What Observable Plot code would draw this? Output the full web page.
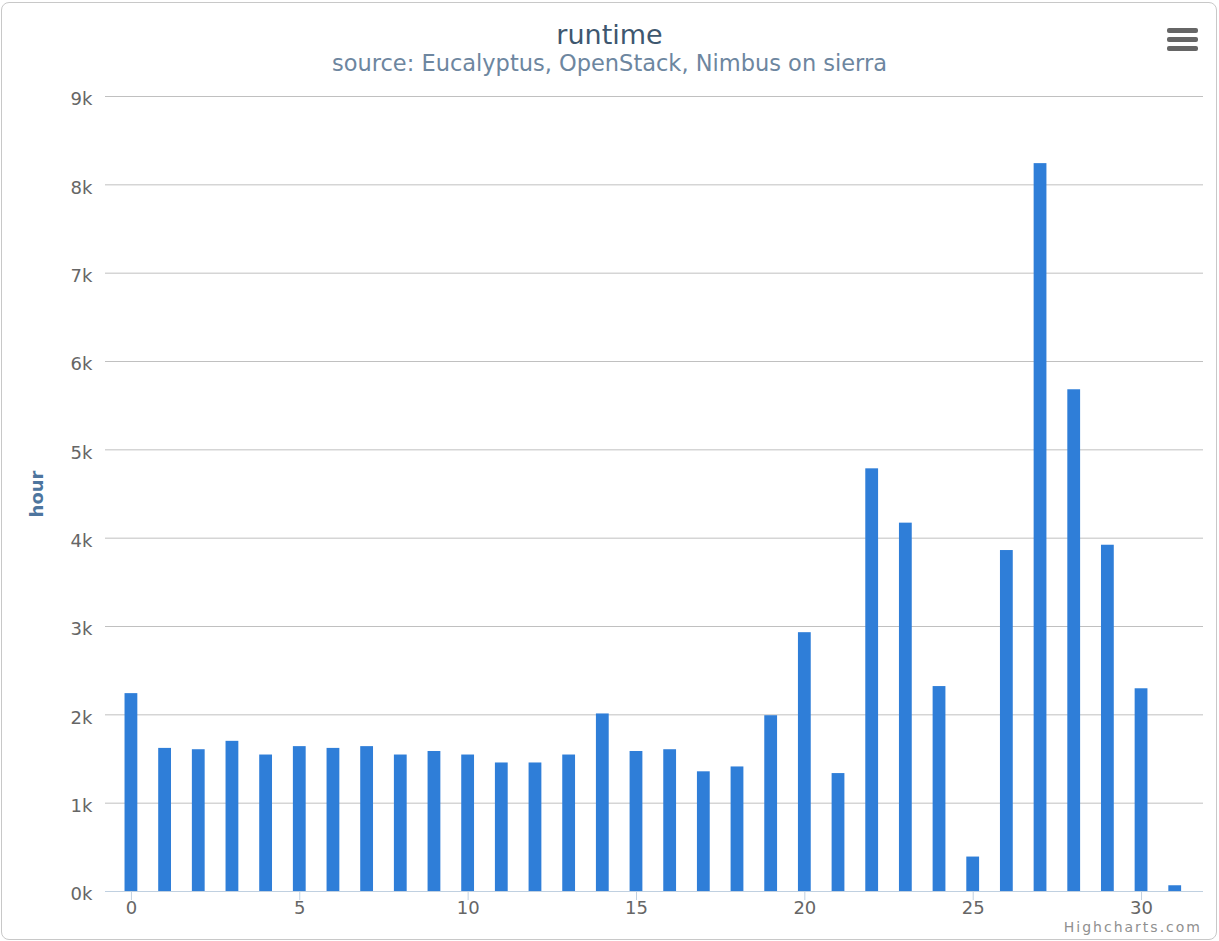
<!DOCTYPE html>
<html><head><meta charset="utf-8">
<script src="https://cdn.jsdelivr.net/npm/d3@7"></script>
<script src="https://cdn.jsdelivr.net/npm/@observablehq/plot@0.6"></script>
<style>
body{margin:0;background:#fff;font-family:"DejaVu Sans",sans-serif;}
#wrap{position:relative;width:1219px;height:941px;overflow:hidden;}
#frame{position:absolute;left:1px;top:2px;width:1214px;height:936px;border:1px solid #c8c8c8;border-radius:8px;pointer-events:none;}
#header{position:relative;height:80px;}
#title{position:absolute;top:20px;left:0;width:1219px;text-align:center;font-size:27px;line-height:30px;color:#3e576f;}
#subtitle{position:absolute;top:51px;left:0;width:1219px;text-align:center;font-size:22.5px;line-height:25px;color:#6d869f;}
#menu{position:absolute;left:1167px;top:28px;width:31px;}
#menu div{height:5px;background:#666;border-radius:2px;margin-bottom:4px;}
#credits{position:absolute;right:17px;top:921px;font-size:14px;letter-spacing:2px;color:#909090;line-height:12px;}
#chart{position:absolute;left:0;top:80px;}
</style>
</head><body>
<div id="wrap">
  <div id="header">
    <div id="title">runtime</div>
    <div id="subtitle">source: Eucalyptus, OpenStack, Nimbus on sierra</div>
    <div id="menu"><div></div><div></div><div></div></div>
  </div>
  <div id="chart"></div>
  <div id="credits">Highcharts.com</div>
  <div id="frame"></div>
</div>
<script>
const days = d3.range(32);
const runtime = [2240, 1620, 1605, 1700, 1545, 1640, 1620, 1640, 1545, 1585,
                 1545, 1455, 1455, 1545, 2010, 1585, 1605, 1355, 1410, 1990,
                 2930, 1335, 4785, 4170, 2320, 390, 3860, 8240, 5680, 3920,
                 2295, 65];
const yTicks = [0, 1000, 2000, 3000, 4000, 5000, 6000, 7000, 8000, 9000];
const xTicks = [0, 5, 10, 15, 20, 25, 30];
const yTitle = ["hour"];

const data = days.map((d, i) => ({day: d, hours: runtime[i]}));
const kfmt = d => (d / 1000) + "k";

const chart = Plot.plot({
  width: 1219, height: 861,
  marginTop: 16, marginBottom: 50, marginLeft: 105, marginRight: 16,
  style: {fontFamily: '"DejaVu Sans", sans-serif', fontSize: "18px", color: "#666", background: "transparent"},
  x: {domain: [-0.77, 31.84], label: null},
  y: {domain: [0, 9000], label: null},
  marks: [
    Plot.gridY(yTicks, {stroke: "#c0c0c0", strokeOpacity: 1}),
    Plot.axisY(yTicks, {tickSize: 0, tickPadding: 13, tickFormat: kfmt, fill: "#666", label: null, dy: 3}),
    Plot.axisX(xTicks, {tickSize: 9, tickPadding: 1, stroke: "#c0d0e0", fill: "#666", label: null, tickFormat: d => String(d)}),
    Plot.rectY(data, {x1: d => d.day - 0.19, x2: d => d.day + 0.19, y: "hours", fill: "#2f7ed8"}),
    Plot.ruleY([0], {stroke: "#c0d0e0"}),
    Plot.text(yTitle, {frameAnchor: "left", textAnchor: "middle", dx: -68, rotate: -90, fill: "#4d759e", fontWeight: "bold", fontSize: 18})
  ]
});
document.getElementById("chart").appendChild(chart);
</script>
</body></html>
